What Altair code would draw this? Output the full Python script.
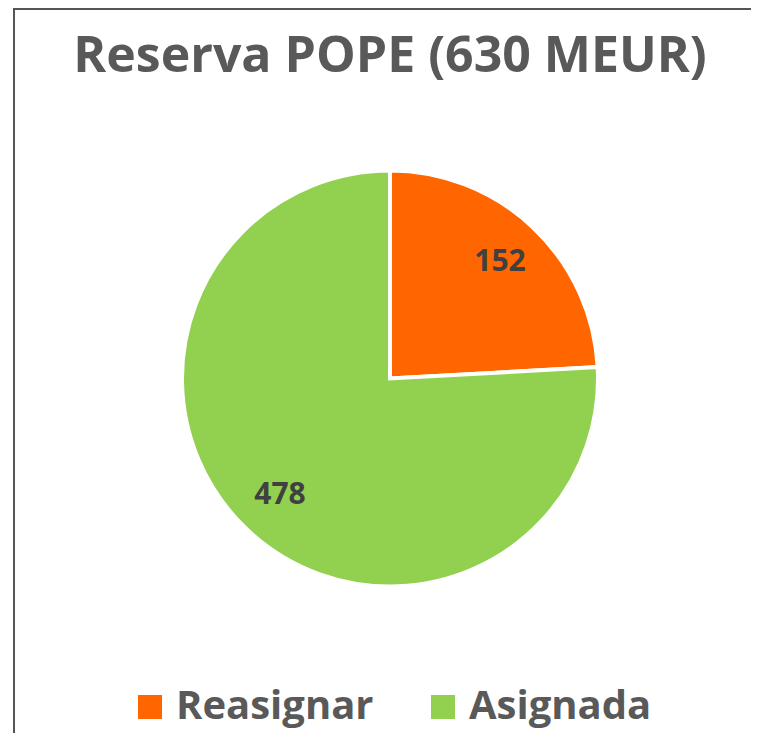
import altair as alt
import pandas as pd

# Data
categories = ["Reasignar", "Asignada"]
values = [152, 478]
order_idx = [0, 1]
colors = ["#FF6600", "#92D050"]
title_text = "Reserva POPE (630 MEUR)"

df = pd.DataFrame({"categoria": categories, "valor": values, "orden": order_idx})

W, H = 722, 709
PAD = {"left": 21, "top": 16, "right": 0, "bottom": 0}
FONT = "Open Sans"

base = alt.Chart(df).encode(
    theta=alt.Theta("valor:Q", stack=True),
    order=alt.Order("orden:Q"),
)

pie = base.mark_arc(outerRadius=208, stroke="white", strokeWidth=4).encode(
    color=alt.Color(
        "categoria:N",
        scale=alt.Scale(domain=categories, range=colors),
        legend=alt.Legend(
            title=None,
            orient="none",
            legendX=101,
            legendY=663,
            direction="horizontal",
            symbolType="square",
            symbolSize=576,
            symbolStrokeWidth=0,
            symbolOpacity=1,
            labelFont=FONT,
            labelFontSize=40,
            labelFontWeight="bold",
            labelColor="#595959",
            labelOffset=6,
            labelLimit=400,
            columnPadding=49,
        ),
    )
)

labels = base.mark_text(
    radius=160, font=FONT, fontSize=30, fontWeight="bold", color="#404040"
).encode(text="valor:Q")

border_data = alt.Data(values=[{"k": 0}])
left_border = alt.Chart(border_data).mark_rule(color="#555555", strokeWidth=2).encode(
    x=alt.value(-15), y=alt.value(-16), y2=alt.value(H)
)
top_border = alt.Chart(border_data).mark_rule(color="#555555", strokeWidth=2).encode(
    x=alt.value(-16), x2=alt.value(W), y=alt.value(-15)
)

chart = (
    alt.layer(left_border, top_border, pie, labels)
    .properties(
        width=W,
        height=H,
        padding=PAD,
        autosize=alt.AutoSizeParams(type="none"),
        title=alt.TitleParams(
            text=title_text,
            font=FONT,
            fontSize=50,
            fontWeight="bold",
            color="#595959",
            anchor="middle",
            frame="group",
            offset=0,
            baseline="alphabetic",
            dy=115,
        ),
    )
    .configure_view(stroke=None)
)

chart.save("out.html", embed_options={"renderer": "svg", "actions": False})
